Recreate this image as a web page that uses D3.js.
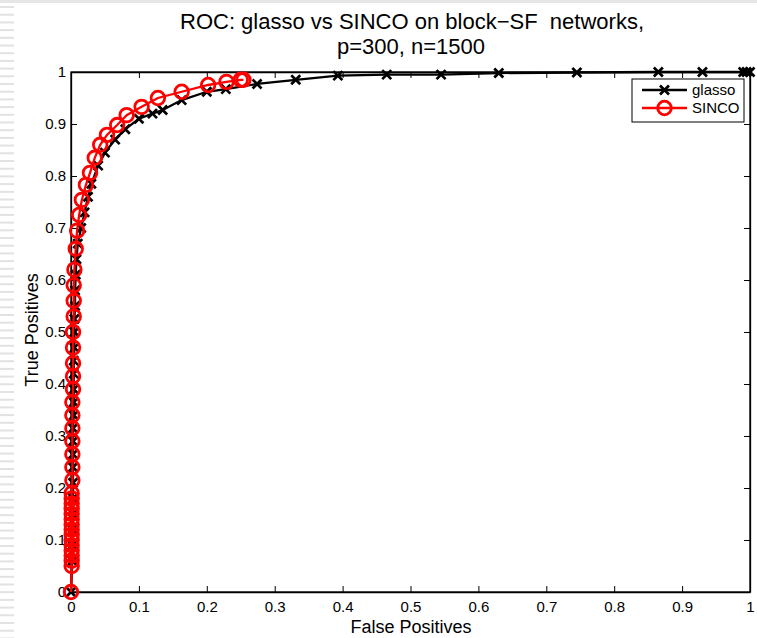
<!DOCTYPE html>
<html><head><meta charset="utf-8">
<script src="https://cdn.jsdelivr.net/npm/d3@7"></script>
<style>body{margin:0;background:#fff}svg{display:block}text{font-family:"Liberation Sans",Arial,Helvetica,sans-serif}</style>
</head><body>
<svg id="c" width="757" height="638"></svg>
<script>
const titleLines = ["ROC: glasso vs SINCO on block\u2212SF  networks,", "p=300, n=1500"];
const xLabel = "False Positives";
const yLabel = "True Positives";
const xTicks = [0,0.1,0.2,0.3,0.4,0.5,0.6,0.7,0.8,0.9,1];
const yTicks = [0,0.1,0.2,0.3,0.4,0.5,0.6,0.7,0.8,0.9,1];
const seriesNames = ["glasso","SINCO"];

const glassoFP = [0,0.002,0.002,0.002,0.003,0.003,0.003,0.003,0.003,0.003,0.003,0.004,0.004,0.004,0.004,0.004,0.005,0.005,0.005,0.006,0.006,0.007,0.008,0.010,0.015,0.020,0.025,0.030,0.040,0.050,0.065,0.080,0.100,0.120,0.135,0.163,0.200,0.228,0.274,0.331,0.393,0.465,0.545,0.630,0.745,0.865,0.930,0.990,0.995,1.000];
const glassoTP = [0,0.060,0.090,0.120,0.150,0.180,0.210,0.240,0.265,0.290,0.315,0.340,0.365,0.390,0.420,0.445,0.470,0.500,0.525,0.550,0.580,0.610,0.640,0.670,0.700,0.730,0.760,0.785,0.820,0.845,0.870,0.890,0.910,0.920,0.927,0.946,0.962,0.967,0.977,0.985,0.993,0.995,0.995,0.998,0.999,1.000,1.000,1.000,1.000,1.000];

const sincoFP = [0,0.001,0.001,0.001,0.001,0.001,0.001,0.001,0.001,0.001,0.001,0.001,0.001,0.001,0.001,0.001,0.002,0.002,0.002,0.002,0.002,0.002,0.002,0.003,0.003,0.003,0.003,0.003,0.004,0.004,0.004,0.005,0.007,0.009,0.012,0.016,0.022,0.028,0.035,0.043,0.053,0.068,0.082,0.104,0.128,0.163,0.202,0.229,0.250,0.254];
const sincoTP = [0,0.050,0.060,0.070,0.080,0.090,0.100,0.110,0.120,0.130,0.140,0.150,0.160,0.170,0.180,0.190,0.215,0.240,0.265,0.290,0.315,0.340,0.365,0.390,0.415,0.440,0.470,0.500,0.530,0.560,0.590,0.620,0.660,0.695,0.725,0.754,0.783,0.806,0.835,0.860,0.879,0.898,0.917,0.933,0.950,0.962,0.975,0.981,0.985,0.985];

const svg = d3.select("#c");
const L = 71, R = 750, T = 72, B = 592;
const x = d3.scaleLinear().domain([0,1]).range([L,R]);
const y = d3.scaleLinear().domain([0,1]).range([B,T]);

// page decoration
svg.append("rect").attr("x",0).attr("y",0).attr("width",757).attr("height",3).attr("fill","#e6e6e6");
const stripes = d3.range(0, 638, 7.7);
svg.selectAll("rect.st").data(stripes).join("rect").attr("class","st")
  .attr("x",0).attr("y",d=>d+6).attr("width",14).attr("height",2).attr("fill","#e2e2e2");

// frame
svg.append("rect").attr("x",L).attr("y",T).attr("width",R-L).attr("height",B-T)
  .attr("fill","#fff").attr("stroke","#000").attr("stroke-width",1.3);

const fmt = d => d===0||d===1 ? String(d) : d.toFixed(1);
const axB = svg.append("g").attr("transform",`translate(0,${B})`)
  .call(d3.axisBottom(x).tickValues(xTicks).tickFormat(fmt).tickSizeInner(-6).tickSizeOuter(0).tickPadding(9));
const axT = svg.append("g").attr("transform",`translate(0,${T})`)
  .call(d3.axisTop(x).tickValues(xTicks).tickFormat("").tickSizeInner(-6).tickSizeOuter(0));
const axL = svg.append("g").attr("transform",`translate(${L},0)`)
  .call(d3.axisLeft(y).tickValues(yTicks).tickFormat(fmt).tickSizeInner(-6).tickSizeOuter(0).tickPadding(5));
const axR = svg.append("g").attr("transform",`translate(${R},0)`)
  .call(d3.axisRight(y).tickValues(yTicks).tickFormat("").tickSizeInner(-6).tickSizeOuter(0));
[axB,axT,axL,axR].forEach(a=>{
  a.select(".domain").attr("stroke","#000").attr("stroke-width",1.3);
  a.selectAll(".tick line").attr("stroke","#000").attr("stroke-width",1);
  a.selectAll(".tick text").attr("font-size",15).attr("fill","#000")
   .style("font-family",'"Liberation Sans",Arial,sans-serif');
});

const line = d3.line().x(d=>x(d[0])).y(d=>y(d[1]));
const gData = glassoFP.map((v,i)=>[v,glassoTP[i]]);
const sData = sincoFP.map((v,i)=>[v,sincoTP[i]]);

svg.append("path").datum(gData).attr("d",line).attr("fill","none").attr("stroke","#000").attr("stroke-width",2.3);
function xMark(g, cx, cy, s){
  g.append("path").attr("d",`M${cx-s},${cy-s}L${cx+s},${cy+s}M${cx-s},${cy+s}L${cx+s},${cy-s}`)
   .attr("stroke","#000").attr("stroke-width",2.7).attr("fill","none");
}
const gm = svg.append("g");
gData.forEach(d=>xMark(gm, x(d[0]), y(d[1]), 4.5));

svg.append("path").datum(sData).attr("d",line).attr("fill","none").attr("stroke","#ff0000").attr("stroke-width",2.3);
svg.append("g").selectAll("circle").data(sData).join("circle")
  .attr("cx",d=>x(d[0])).attr("cy",d=>y(d[1])).attr("r",6.8)
  .attr("fill","none").attr("stroke","#ff0000").attr("stroke-width",2.8);

// title
svg.append("text").attr("x",412).attr("y",29).attr("text-anchor","middle").attr("font-size",22)
  .attr("xml:space","preserve").style("white-space","pre").text(titleLines[0]);
svg.append("text").attr("x",411).attr("y",54).attr("text-anchor","middle").attr("font-size",22).text(titleLines[1]);
svg.append("text").attr("x",411).attr("y",633).attr("text-anchor","middle").attr("font-size",18).text(xLabel);
svg.append("text").attr("transform","translate(38,330) rotate(-90)").attr("text-anchor","middle").attr("font-size",18).text(yLabel);

// legend
const lg = svg.append("g");
lg.append("rect").attr("x",632).attr("y",79).attr("width",112).attr("height",43).attr("fill","#fff").attr("stroke","#000").attr("stroke-width",1);
seriesNames.forEach((n,i)=>{
  const ly = 90 + i*18;
  lg.append("line").attr("x1",642).attr("x2",687).attr("y1",ly).attr("y2",ly)
    .attr("stroke", i? "#ff0000":"#000").attr("stroke-width",2.3);
  if(i===0) xMark(lg, 664.5, ly, 4.5);
  else lg.append("circle").attr("cx",664.5).attr("cy",ly).attr("r",6.8).attr("fill","none").attr("stroke","#ff0000").attr("stroke-width",2.8);
  lg.append("text").attr("x",692).attr("y",ly+5).attr("font-size",15).text(n);
});
</script>
</body></html>
